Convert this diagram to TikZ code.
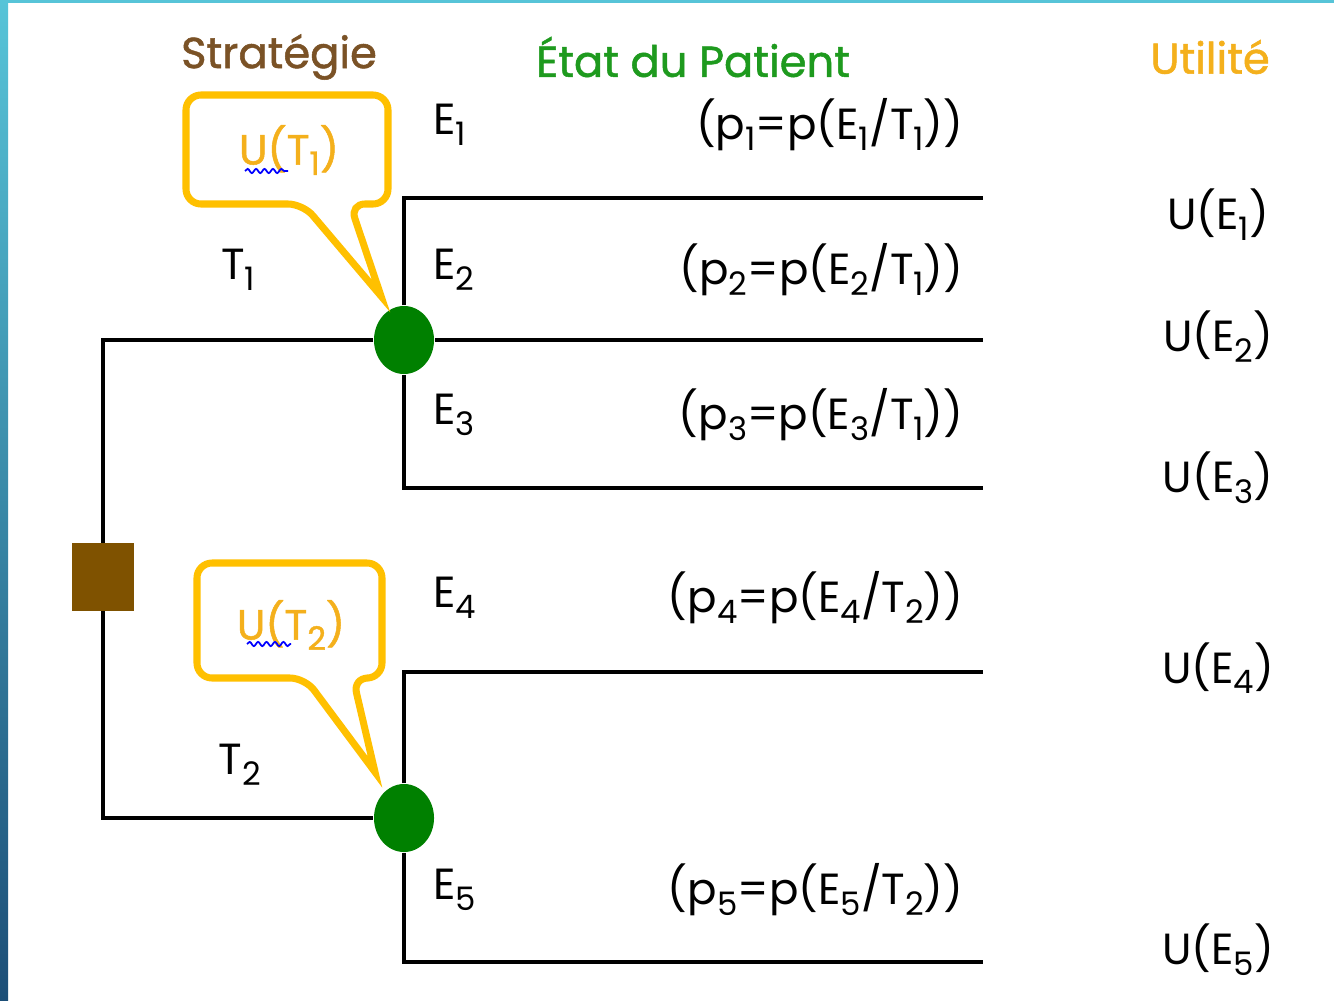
\documentclass[tikz,border=0pt]{standalone}
\usepackage{fontspec}
\setmainfont{Poppins}
\newfontfamily\headfont[FakeBold=1.2]{Poppins}
\usetikzlibrary{shapes.geometric,decorations.pathmorphing}
\definecolor{frametop}{HTML}{57C4D8}
\definecolor{framebot}{HTML}{1C4E77}
\definecolor{decbrown}{HTML}{7F5200}
\definecolor{headbrown}{HTML}{7A5226}
\definecolor{headgreen}{HTML}{1E9A1E}
\definecolor{chancegreen}{HTML}{008000}
\definecolor{balloongold}{HTML}{FFC000}
\definecolor{utilorange}{HTML}{F4B01C}
\newcommand\sbs[1]{\raisebox{-0.45ex}{\fontsize{9.2}{10}\selectfont #1}}
\begin{document}
\begin{tikzpicture}
        [x=0.01cm,y=-0.01cm,
        txt/.style={font=\fontsize{12.4}{15}\selectfont},
        head/.style={font=\fontsize{12.3}{15}\selectfont\headfont},
        balloontxt/.style={font=\fontsize{12}{15}\selectfont\headfont,text=utilorange},
        chance/.style={ellipse,fill=chancegreen,inner sep=0pt,minimum width=0.6cm,minimum height=0.68cm},
        decision/.style={rectangle,fill=decbrown,inner sep=0pt,minimum width=0.61cm,minimum height=0.67cm},
        branch/.style={line width=1.3pt},
        balloon/.style={draw=balloongold,line width=2pt,rounded corners=0.15cm},
        squiggle/.style={blue,line width=0.5pt,decorate,decoration={snake,amplitude=0.6pt,segment length=2.4pt}}]
        \useasboundingbox (0,0) rectangle (1334,1000);
        \fill[white] (0,0) rectangle (1334,1000);
        \shade[top color=frametop,bottom color=framebot] (0,0) rectangle (8,1000);
        \fill[frametop] (0,0) rectangle (1334,3);

        \node (hs) at (279,57) [head,text=headbrown] {Stratégie};
        \node (he) at (693,57) [head,text=headgreen] {État du Patient};
        \node (hu) at (1210,57) [head,text=utilorange] {Utilité};

        \node (dec) at (103,577) [decision] {};
        \node (c1) at (404,340) [chance] {};
        \node (c2) at (404,818) [chance] {};
        \coordinate (l1) at (983,198);
        \coordinate (l2) at (983,340);
        \coordinate (l3) at (983,488);
        \coordinate (l4) at (983,672);
        \coordinate (l5) at (983,962);

        \draw[branch] (c1.west) -| (dec.north);
        \draw[branch] (dec.south) |- (c2.west);
        \draw[branch] (c1.north) |- (l1);
        \draw[branch] (c1.east) -- (l2);
        \draw[branch] (c1.south) |- (l3);
        \draw[branch] (c2.north) |- (l4);
        \draw[branch] (c2.south) |- (l5);

        \node (t1) at (238,270) [txt] {T\sbs{1}};
        \node (t2) at (240,765) [txt] {T\sbs{2}};

        \node (e1) at (421,125) [txt,anchor=west] {E\sbs{1}};
        \node (e2) at (421,270) [txt,anchor=west] {E\sbs{2}};
        \node (e3) at (421,415) [txt,anchor=west] {E\sbs{3}};
        \node (e4) at (421,598) [txt,anchor=west] {E\sbs{4}};
        \node (e5) at (421,890) [txt,anchor=west] {E\sbs{5}};

        \node (p1) at (976,125) [txt,anchor=east] {(p\sbs{1}=p(E\sbs{1}/T\sbs{1}))};
        \node (p2) at (976,270) [txt,anchor=east] {(p\sbs{2}=p(E\sbs{2}/T\sbs{1}))};
        \node (p3) at (976,415) [txt,anchor=east] {(p\sbs{3}=p(E\sbs{3}/T\sbs{1}))};
        \node (p4) at (976,598) [txt,anchor=east] {(p\sbs{4}=p(E\sbs{4}/T\sbs{2}))};
        \node (p5) at (976,890) [txt,anchor=east] {(p\sbs{5}=p(E\sbs{5}/T\sbs{2}))};

        \node (u1) at (1218,215) [txt] {U(E\sbs{1})};
        \node (u2) at (1218,337) [txt] {U(E\sbs{2})};
        \node (u3) at (1218,478) [txt] {U(E\sbs{3})};
        \node (u4) at (1218,668) [txt] {U(E\sbs{4})};
        \node (u5) at (1218,950) [txt] {U(E\sbs{5})};

        \draw[balloon] (381,296) -- (303,204) -- (186,204) -- (186,95) -- (388,95) -- (388,204) -- (350,204) [sharp corners] -- cycle;
        \draw[balloon] (375,772) -- (305,678) -- (197,678) -- (197,563) -- (382,563) -- (382,678) -- (353,678) [sharp corners] -- cycle;
        \node (ut1) at (289,150) [balloontxt] {U(T\sbs{1})};
        \node (ut2) at (291,625) [balloontxt] {U(T\sbs{2})};
        \draw[squiggle] (245,171) -- (288,171);
        \draw[squiggle] (247,644) -- (291,644);
\end{tikzpicture}
\end{document}
